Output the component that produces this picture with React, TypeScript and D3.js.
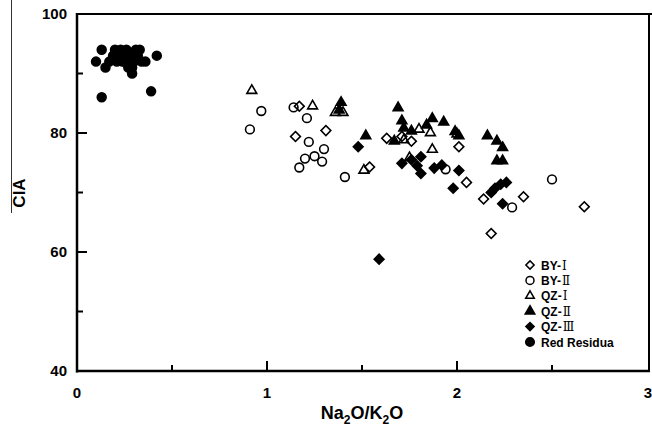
import React, { useEffect, useRef } from "react";
import * as d3 from "d3";

// [Na2O/K2O, CIA]
const byI = [[1.17,84.5],[1.15,79.4],[1.31,80.4],[1.54,74.3],[1.63,79.1],[1.71,79.4],[1.76,78.6],[2.01,77.7],[2.05,71.7],[2.14,68.9],[2.35,69.3],[2.67,67.6],[2.18,63.1]];
const byII = [[0.91,80.6],[0.97,83.7],[1.14,84.3],[1.21,82.5],[1.22,78.5],[1.30,77.3],[1.20,75.7],[1.25,76.1],[1.29,75.2],[1.17,74.2],[1.41,72.6],[1.94,73.9],[2.29,67.5],[2.50,72.2]];
const qzI = [[0.92,87.3],[1.24,84.7],[1.36,83.6],[1.40,83.6],[1.51,73.9],[1.75,76.0],[1.86,80.2],[1.87,77.4],[1.72,79.0],[1.80,80.8],[2.00,80.0]];
const qzII = [[1.39,85.3],[1.38,84.0],[1.52,79.7],[1.69,84.4],[1.71,82.2],[1.72,81.0],[1.67,78.8],[1.76,80.5],[1.84,81.5],[1.87,82.6],[1.99,80.4],[2.01,79.7],[2.16,79.7],[2.21,78.8],[2.24,77.7],[2.21,75.5],[2.24,75.5],[1.93,82.0]];
const qzIII = [[1.48,77.7],[1.59,58.8],[1.71,74.9],[1.76,75.5],[1.81,76.0],[1.79,74.5],[1.81,73.2],[1.88,74.1],[1.92,74.6],[2.01,73.7],[1.98,70.7],[2.18,70.0],[2.20,70.7],[2.23,71.4],[2.26,71.7],[2.24,68.1]];
const redResidua = [[0.10,92],[0.13,94],[0.13,86],[0.15,91],[0.17,92],[0.19,93],[0.20,94],[0.21,92],[0.22,93],[0.23,94],[0.24,92],[0.25,93],[0.26,94],[0.27,91],[0.28,93],[0.29,90],[0.30,92],[0.31,94],[0.32,93],[0.34,92],[0.36,92],[0.39,87],[0.42,93],[0.29,91],[0.25,92],[0.33,94]];

const legendNames = [["BY-", "Ⅰ"], ["BY-", "Ⅱ"], ["QZ-", "Ⅰ"], ["QZ-", "Ⅱ"], ["QZ-", "Ⅲ"], ["Red Residua", ""]];
const xTicks = [0, 1, 2, 3];
const xMinor = [0.5, 1.5, 2.5];
const yTicks = [40, 60, 80, 100];
const yMinor = [50, 70, 90];

const x = d3.scaleLinear().domain([0, 3]).range([77, 647]);
const y = d3.scaleLinear().domain([40, 100]).range([371, 14]);
const font = "Arial, 'Liberation Sans', sans-serif";

export default function App() {
  const ref = useRef<SVGGElement>(null);

  useEffect(() => {
    const g = d3.select(ref.current);
    g.selectAll("*").remove();

    const sq = d3.symbol().type(d3.symbolSquare).size(48)();
    const circ = d3.symbol().type(d3.symbolCircle).size(60)();
    const tri = d3.symbol().type(d3.symbolTriangle).size(42)();
    const dot = d3.symbol().type(d3.symbolCircle).size(62)();

    const series = [
      { data: byI, path: sq, rot: 45, fill: false },
      { data: byII, path: circ, rot: 0, fill: false },
      { data: qzI, path: tri, rot: 0, fill: false },
      { data: qzII, path: tri, rot: 0, fill: true },
      { data: qzIII, path: sq, rot: 45, fill: true },
      { data: redResidua, path: dot, rot: 0, fill: true },
    ];

    series.forEach(s => {
      g.append("g").selectAll("path").data(s.data).enter().append("path")
        .attr("d", s.path)
        .attr("transform", d => `translate(${x(d[0])},${y(d[1]) + (s.path === tri ? 1 : 0)}) rotate(${s.rot})`)
        .attr("fill", s.fill ? "#000" : "none")
        .attr("stroke", "#000").attr("stroke-width", 1.6);
    });

    // legend
    const lg = g.append("g");
    const legendSyms = [
      { path: d3.symbol().type(d3.symbolSquare).size(34)(), rot: 45, fill: false },
      { path: d3.symbol().type(d3.symbolCircle).size(50)(), rot: 0, fill: false },
      { path: d3.symbol().type(d3.symbolTriangle).size(32)(), rot: 0, fill: false },
      { path: d3.symbol().type(d3.symbolTriangle).size(40)(), rot: 0, fill: true },
      { path: d3.symbol().type(d3.symbolSquare).size(34)(), rot: 45, fill: true },
      { path: d3.symbol().type(d3.symbolCircle).size(58)(), rot: 0, fill: true },
    ];
    legendNames.forEach((n, i) => {
      const yy = 265 + i * 15.4;
      const s = legendSyms[i];
      lg.append("path").attr("d", s.path).attr("transform", `translate(530,${yy}) rotate(${s.rot})`)
        .attr("fill", s.fill ? "#000" : "none").attr("stroke", "#000").attr("stroke-width", 1.5);
      const t = lg.append("text").attr("x", 541).attr("y", yy + 4.5)
        .attr("font-family", font).attr("font-weight", "bold").attr("font-size", 12);
      t.append("tspan").text(n[0]);
      if (n[1]) t.append("tspan").attr("font-family", "'DejaVu Serif', serif").attr("font-weight", "normal").attr("font-size", 12).attr("dx", 1).text(n[1]);
    });
  }, []);

  const xTickMarks = [...xTicks.slice(1, 3).map(v => ({ v, len: 10 })), ...xMinor.map(v => ({ v, len: 6 }))];
  const yTickMarks = [...yTicks.slice(1, 3).map(v => ({ v, len: 10 })), ...yMinor.map(v => ({ v, len: 6 }))];

  return (
    <svg width={652} height={430} style={{ position: "absolute", left: 0, top: 0, background: "#fff" }}>
      {/* frame */}
      <line x1={76} x2={652} y1={y(100)} y2={y(100)} stroke="#000" strokeWidth={2} />
      <line x1={649} x2={649} y1={y(100)} y2={y(40)} stroke="#000" strokeWidth={2} />
      <line x1={x(0)} x2={x(0)} y1={y(100) - 1} y2={y(40) + 1.5} stroke="#000" strokeWidth={2.5} />
      <line x1={x(0) - 1} x2={650} y1={y(40)} y2={y(40)} stroke="#000" strokeWidth={2.5} />
      <line x1={11.5} x2={11.5} y1={0} y2={213} stroke="#333" strokeWidth={1} />
      {/* ticks */}
      {xTickMarks.map(t => (
        <line key={"x" + t.v} x1={x(t.v)} x2={x(t.v)} y1={y(40)} y2={y(40) - t.len} stroke="#000" strokeWidth={2} />
      ))}
      {yTickMarks.map(t => (
        <line key={"y" + t.v} x1={x(0)} x2={x(0) + t.len} y1={y(t.v)} y2={y(t.v)} stroke="#000" strokeWidth={2} />
      ))}
      {/* tick labels */}
      {xTicks.map(v => (
        <text key={v} x={x(v) + (v === 3 ? 1 : 0)} y={398} textAnchor="middle" fontFamily={font} fontWeight="bold" fontSize={15}>{v}</text>
      ))}
      {yTicks.map(v => (
        <text key={v} x={67} y={y(v) + 5} textAnchor="end" fontFamily={font} fontWeight="bold" fontSize={15}>{v}</text>
      ))}
      {/* titles */}
      <text x={362} y={419} textAnchor="middle" fontFamily={font} fontWeight="bold" fontSize={18}>
        <tspan>Na</tspan>
        <tspan fontSize={12} dy={5}>2</tspan>
        <tspan dy={-5}>O/K</tspan>
        <tspan fontSize={12} dy={5}>2</tspan>
        <tspan dy={-5}>O</tspan>
      </text>
      <text transform="translate(25,193) rotate(-90)" textAnchor="middle" fontFamily={font} fontWeight="bold" fontSize={17}>CIA</text>
      <g ref={ref} />
    </svg>
  );
}
